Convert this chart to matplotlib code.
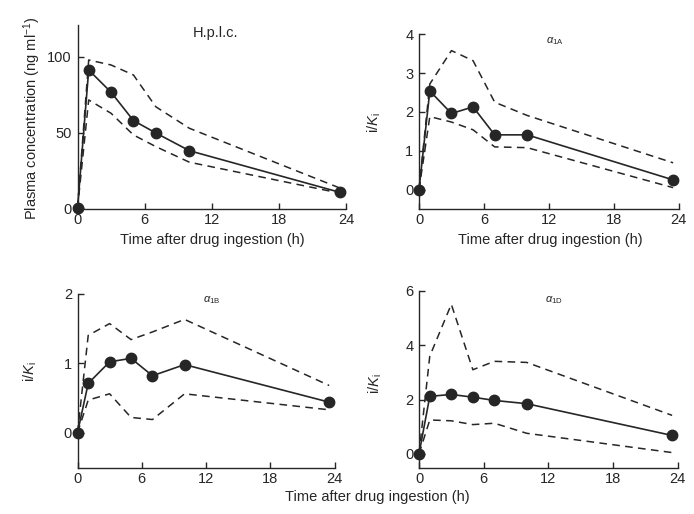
import matplotlib
matplotlib.use("Agg")
import matplotlib.pyplot as plt

plt.rcParams['font.family'] = ['Liberation Sans', 'DejaVu Sans']
plt.rcParams['mathtext.fontset'] = 'custom'
plt.rcParams['mathtext.rm'] = 'Liberation Sans'
plt.rcParams['mathtext.it'] = 'Liberation Sans:italic'

# ---- data ----
times = [0, 1, 3, 5, 7, 10, 23.5]

hplc_mean = [0, 91.3, 76.6, 57.9, 49.7, 38.0, 10.4]
hplc_upper = [0, 97.9, 94.6, 88.0, 67.0, 52.8, 13.2]
hplc_lower = [0, 71.5, 62.7, 48.4, 40.7, 30.4, 9.9]

a1a_mean = [0, 2.54, 1.96, 2.13, 1.41, 1.41, 0.25]
a1a_upper = [0, 2.72, 3.58, 3.32, 2.25, 1.91, 0.69]
a1a_lower = [0, 1.88, 1.74, 1.54, 1.10, 1.08, 0.05]

a1b_mean = [0, 0.71, 1.02, 1.07, 0.82, 0.98, 0.44]
a1b_upper = [0, 1.40, 1.57, 1.34, 1.45, 1.63, 0.68]
a1b_lower = [0, 0.47, 0.56, 0.22, 0.19, 0.56, 0.33]

a1d_mean = [0, 2.12, 2.19, 2.09, 1.97, 1.85, 0.68]
a1d_upper = [0, 3.60, 5.51, 3.10, 3.41, 3.37, 1.42]
a1d_lower = [0, 1.25, 1.22, 1.08, 1.13, 0.76, 0.05]

xticks = [0, 6, 12, 18, 24]

W, H = 694, 514
fig = plt.figure(figsize=(W / 100, H / 100), dpi=100)

def ax_at(l, r, t, b):
    return fig.add_axes([l / W, 1 - b / H, (r - l) / W, (b - t) / H])

panels = [
    dict(box=(77.5, 346, 25, 209), mean=hplc_mean, up=hplc_upper, lo=hplc_lower,
         ylim=(-0.5, 121), yticks=[0, 50, 100], title='H.p.l.c.',
         tpos=(215, 33), tsize=10.5),
    dict(box=(419, 678.5, 34.3, 209), mean=a1a_mean, up=a1a_upper, lo=a1a_lower,
         ylim=(-0.5, 4), yticks=[0, 1, 2, 3, 4], title=r'$\alpha_{\mathrm{1A}}$',
         tpos=(555, 41), tsize=8),
    dict(box=(77.5, 334.5, 293.7, 467.5), mean=a1b_mean, up=a1b_upper, lo=a1b_lower,
         ylim=(-0.5, 2), yticks=[0, 1, 2], title=r'$\alpha_{\mathrm{1B}}$',
         tpos=(212, 300), tsize=8),
    dict(box=(419, 677.5, 291, 467.5), mean=a1d_mean, up=a1d_upper, lo=a1d_lower,
         ylim=(-0.5, 6), yticks=[0, 2, 4, 6], title=r'$\alpha_{\mathrm{1D}}$',
         tpos=(554, 300), tsize=8),
]

col = '#262626'
axes = []
for p in panels:
    ax = ax_at(*p['box'])
    axes.append(ax)
    ax.plot(times, p['up'], ls=(0, (5, 3.5)), color=col, lw=1.1, clip_on=False)
    ax.plot(times, p['lo'], ls=(0, (5, 3.5)), color=col, lw=1.1, clip_on=False)
    ax.plot(times, p['mean'], '-o', color=col, lw=1.2, ms=7.5, clip_on=False, zorder=5)
    ax.set_xlim(0, 24)
    ax.set_ylim(*p['ylim'])
    ax.set_xticks(xticks)
    ax.set_yticks(p['yticks'])
    for s in ['top', 'right']:
        ax.spines[s].set_visible(False)
    for s in ['left', 'bottom']:
        ax.spines[s].set_linewidth(1.0)
        ax.spines[s].set_color(col)
    ax.tick_params(direction='in', length=4, width=1.0, color=col,
                   labelsize=10.5, labelcolor=col)
    ax.tick_params(axis='x', pad=3)
    ax.tick_params(axis='y', pad=4)
    fig.text(p['tpos'][0] / W, 1 - p['tpos'][1] / H, p['title'],
             ha='center', va='center', fontsize=p['tsize'], color=col)

# axis labels
fig.text(32 / W, 1 - 118 / H, r'Plasma concentration (ng ml$^{-1}$)',
         rotation=90, ha='center', va='center', fontsize=10.5, color=col)
fig.text(374 / W, 1 - 123 / H, r'i/$\mathit{K}_{\mathrm{i}}$',
         rotation=90, ha='center', va='center', fontsize=10.5, color=col)
fig.text(30 / W, 1 - 372 / H, r'i/$\mathit{K}_{\mathrm{i}}$',
         rotation=90, ha='center', va='center', fontsize=10.5, color=col)
fig.text(375 / W, 1 - 384 / H, r'i/$\mathit{K}_{\mathrm{i}}$',
         rotation=90, ha='center', va='center', fontsize=10.5, color=col)

fig.text(212 / W, 1 - 240 / H, 'Time after drug ingestion (h)',
         ha='center', va='center', fontsize=10.5, color=col)
fig.text(550 / W, 1 - 240 / H, 'Time after drug ingestion (h)',
         ha='center', va='center', fontsize=10.5, color=col)
fig.text(377 / W, 1 - 497 / H, 'Time after drug ingestion (h)',
         ha='center', va='center', fontsize=10.5, color=col)

fig.savefig('out.png', dpi=100)
